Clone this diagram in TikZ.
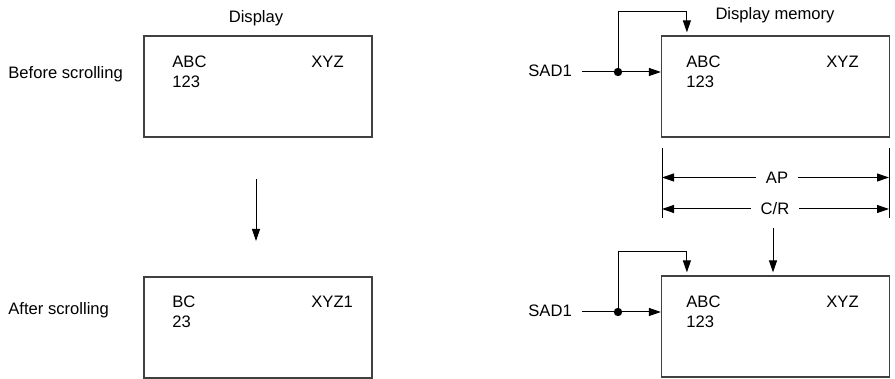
\documentclass[tikz,border=0pt]{standalone}
\usepackage{fontspec}
\setmainfont{Liberation Sans}
\usetikzlibrary{arrows.meta,positioning}

\tikzset{
  lbl/.style={inner sep=0pt, font=\fontsize{8.3}{10}\selectfont},
  screen/.style={draw=black!75, line width=0.6pt, minimum width=114pt,
    minimum height=50.5pt, inner sep=0pt},
  arr/.style={-{Triangle[length=6pt,width=4pt]}, line width=0.5pt},
  dimlbl/.style={lbl, inner xsep=4.8pt},
}

\begin{document}
\begin{tikzpicture}[x=0.5pt,y=-0.5pt]
  \useasboundingbox (0,0) rectangle (895,379);
  % Display (left column)
  \node[lbl, anchor=base] (dispT) at (256,23) {Display};
  \node[screen] (disp1) at (258,86.5) {};
  \node[screen] (disp2) at (258,327.5) {};
  \node[lbl, anchor=base west] (before) at (8,79) {Before scrolling};
  \node[lbl, anchor=base west] (after) at (8,315) {After scrolling};
  \node[lbl, anchor=base west] (d1abc) at (172,68) {ABC};
  \node[lbl, anchor=base west] (d1num) at (172,88) {123};
  \node[lbl, anchor=base west] (d1xyz) at (311,68) {XYZ};
  \node[lbl, anchor=base west] (d2abc) at (172,308) {BC};
  \node[lbl, anchor=base west] (d2num) at (172,328) {23};
  \node[lbl, anchor=base west] (d2xyz) at (311,308) {XYZ1};
  \coordinate (scrTop) at (256,179);
  \coordinate (scrEnd) at (256,241);
  \draw[arr] (scrTop) -- (scrEnd);

  % Display memory (right column)
  \node[lbl, anchor=base] (memT) at (775,20) {Display memory};
  \node[screen] (mem1) at (775.5,86.5) {};
  \node[screen] (mem2) at (775.5,326.5) {};
  \node[lbl, anchor=base west] (m1abc) at (686,68) {ABC};
  \node[lbl, anchor=base west] (m1num) at (686,88) {123};
  \node[lbl, anchor=base west] (m1xyz) at (826,68) {XYZ};
  \node[lbl, anchor=base west] (m2abc) at (686,308) {ABC};
  \node[lbl, anchor=base west] (m2num) at (686,328) {123};
  \node[lbl, anchor=base west] (m2xyz) at (826,308) {XYZ};

  % SAD1 feeds, before scrolling
  \node[lbl, anchor=base west] (sad1a) at (528,77) {SAD1};
  \coordinate (j1) at (618,72);
  \draw[arr] ([xshift=5pt]sad1a.east |- j1) -- (j1 -| mem1.west);
  \draw[arr, shorten >=1.5pt] (j1) -- (618,12) -| ([xshift=13pt]mem1.north west);
  \fill (j1) circle (2.1pt);

  % SAD1 feeds, after scrolling
  \node[lbl, anchor=base west] (sad1b) at (528,317) {SAD1};
  \coordinate (j2) at (618,312);
  \draw[arr] ([xshift=5pt]sad1b.east |- j2) -- (j2 -| mem2.west);
  \draw[arr, shorten >=1.5pt] (j2) -- (618,252) -| ([xshift=13pt]mem2.north west);
  \fill (j2) circle (2.1pt);

  % AP and C/R widths
  \coordinate (tickL) at (662,148);
  \coordinate (tickR) at (889,148);
  \draw[line width=0.5pt] (tickL) -- ++(0,70);
  \draw[line width=0.5pt] (tickR) -- ++(0,70);
  \node[dimlbl] (ap) at (777,177.5) {AP};
  \node[dimlbl] (cr) at (775,209) {C/R};
  \draw[arr] (ap.west) -- (ap.west -| tickL);
  \draw[arr] (ap.east) -- (ap.east -| tickR);
  \draw[arr] (cr.west) -- (cr.west -| tickL);
  \draw[arr] (cr.east) -- (cr.east -| tickR);
  \coordinate (shift) at (773,228);
  \draw[arr, shorten >=1.5pt] (shift) -- (shift |- mem2.north);
\end{tikzpicture}
\end{document}
